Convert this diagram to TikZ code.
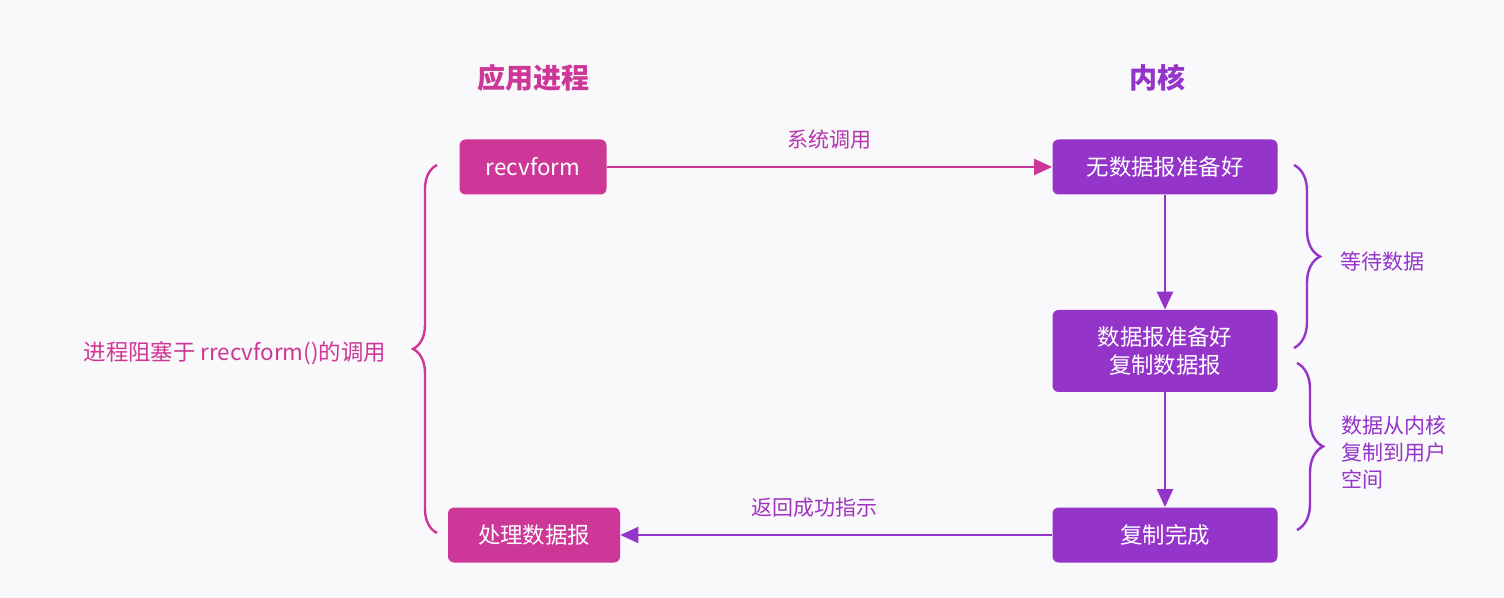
\documentclass[tikz,border=0pt]{standalone}
\usepackage{fontspec}
\setmainfont{Noto Sans CJK SC}
\usetikzlibrary{arrows.meta,positioning,decorations.pathreplacing}
\definecolor{rose}{HTML}{CD3797}
\definecolor{violet}{HTML}{9434C9}
\definecolor{paper}{HTML}{F9F8FA}
\tikzset{
  appbox/.style={rectangle, rounded corners=3pt, fill=rose, text=white, align=center,
                 minimum height=27.5pt, inner sep=2pt, font=\fontsize{11.2}{14}\selectfont},
  kernbox/.style={appbox, fill=violet, minimum width=112.5pt},
  headlbl/.style={font=\fontsize{14}{16}\selectfont\bfseries},
  sidelbl/.style={font=\fontsize{10.5}{13.5}\selectfont, align=left},
  flow/.style={-{Triangle[length=9pt,width=8pt]}, line width=1.1pt},
  brc/.style={decorate, decoration={brace, amplitude=#1}, line width=1.2pt},
}

\begin{document}
\begin{tikzpicture}[x=0.5pt, y=-0.5pt]
\fill[paper] (0,0) rectangle (1504,598);

\node[headlbl, text=rose]   (apphd)  at (533,78)   {应用进程};
\node[headlbl, text=violet] (kernhd) at (1157,78)  {内核};

\node[appbox, minimum width=73.5pt] (recv) at (533,167) {recvform};
\node[appbox, minimum width=86pt]   (proc) at (534,535) {处理数据报};

\node[kernbox] (nodata) at (1165,167) {无数据报准备好};
\node[kernbox, minimum height=41pt] (ready) at (1165,351) {数据报准备好\\复制数据报};
\node[kernbox] (done)   at (1165,535) {复制完成};

\draw[flow, rose] (recv) -- node[midway, above=5pt, sidelbl, text=rose!55!violet] (syscall) {系统调用} (nodata);
\draw[flow, violet] (nodata) -- (ready);
\draw[flow, violet] (ready) -- (done);
\draw[flow, violet] (done) -- node[pos=0.55, above=5pt, sidelbl, text=violet!80!rose] (retok) {返回成功指示} (proc);

\coordinate (lbtop) at (437,165);
\coordinate (lbbot) at (437,533);
\draw[brc=12pt, rose] (lbbot) -- (lbtop);
\node[sidelbl, font=\fontsize{11.2}{14}\selectfont, text=rose, anchor=east] (blocked) at (393,353) {进程阻塞于 rrecvform()的调用};

\coordinate (rbtop) at (1294,165);
\coordinate (rbmid) at (1294,348);
\draw[brc=13pt, violet] (rbtop) -- (rbmid);
\node[sidelbl, text=violet, anchor=west] (waiting) at (1333,262) {等待数据};

\coordinate (rctop) at (1297,363);
\coordinate (rcbot) at (1297,530);
\draw[brc=13pt, violet] (rctop) -- (rcbot);
\node[sidelbl, text=violet, anchor=west] (copying) at (1334,452) {数据从内核\\复制到用户\\空间};
\end{tikzpicture}
\end{document}
